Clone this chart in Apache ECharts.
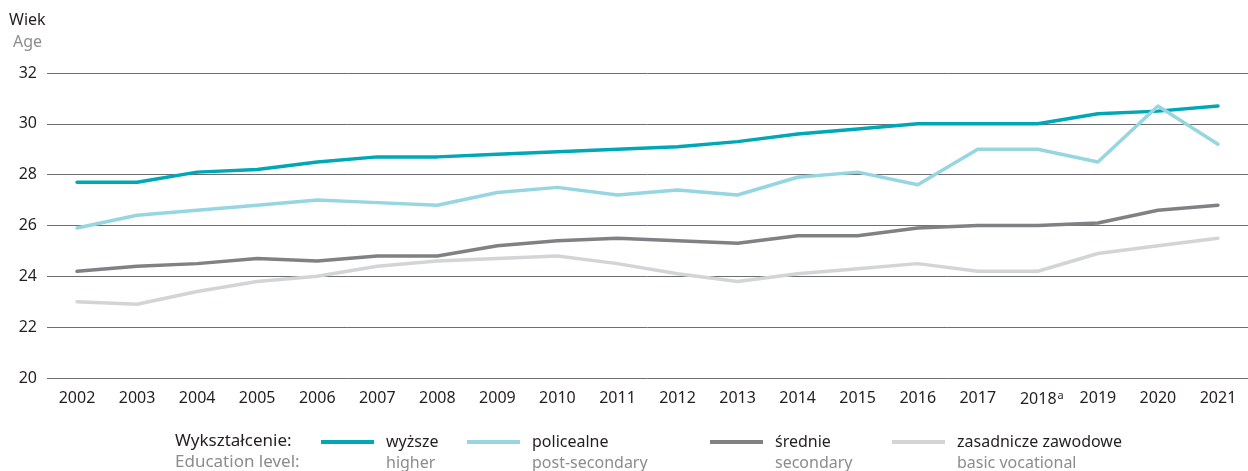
<!DOCTYPE html>
<html>
<head>
<meta charset="utf-8">
<script src="https://cdn.jsdelivr.net/npm/echarts@6/dist/echarts.min.js"></script>
<style>
  html, body { margin: 0; padding: 0; background: #fff; }
  #chart { width: 1248px; height: 471px; }
</style>
</head>
<body>
<div id="chart"></div>
<script>
// lata
var years = ['2002', '2003', '2004', '2005', '2006', '2007', '2008', '2009', '2010', '2011',
  '2012', '2013', '2014', '2015', '2016', '2017', '2018', '2019', '2020', '2021'];
var footnoteYear = '2018';

// nazwy serii (pl / en)
var namesPl = ['wyższe', 'policealne', 'średnie', 'zasadnicze zawodowe'];
var namesEn = ['higher', 'post-secondary', 'secondary', 'basic vocational'];

// mediana wieku
var higher = [27.7, 27.7, 28.1, 28.2, 28.5, 28.7, 28.7, 28.8, 28.9, 29.0,
  29.1, 29.3, 29.6, 29.8, 30.0, 30.0, 30.0, 30.4, 30.5, 30.7];
var postSecondary = [25.9, 26.4, 26.6, 26.8, 27.0, 26.9, 26.8, 27.3, 27.5, 27.2,
  27.4, 27.2, 27.9, 28.1, 27.6, 29.0, 29.0, 28.5, 30.7, 29.2];
var secondary = [24.2, 24.4, 24.5, 24.7, 24.6, 24.8, 24.8, 25.2, 25.4, 25.5,
  25.4, 25.3, 25.6, 25.6, 25.9, 26.0, 26.0, 26.1, 26.6, 26.8];
var vocational = [23.0, 22.9, 23.4, 23.8, 24.0, 24.4, 24.6, 24.7, 24.8, 24.5,
  24.1, 23.8, 24.1, 24.3, 24.5, 24.2, 24.2, 24.9, 25.2, 25.5];

var yTicks = [20, 22, 24, 26, 28, 30, 32];

var colors = ['#00a7b6', '#96d6e0', '#808184', '#d3d4d5'];
var FONT = '"Noto Sans", sans-serif';
var dark = '#231f20';
var grey = '#8c8c8c';

var seriesData = [higher, postSecondary, secondary, vocational];
var legendLeft = [321, 467, 710, 892];

var myChart = echarts.init(document.getElementById('chart'));

var series = seriesData.map(function (d, i) {
  return {
    name: namesPl[i],
    type: 'line',
    data: d,
    symbol: 'none',
    smooth: false,
    lineStyle: { color: colors[i], width: 3.5, cap: 'round', join: 'round' },
    itemStyle: { color: colors[i] }
  };
});

// jedna legenda na serie, zeby odstepy byly jak w oryginale
var legends = namesPl.map(function (n, i) {
  return {
    data: [n],
    left: legendLeft[i],
    top: 434,
    padding: 0,
    icon: 'rect',
    itemWidth: 53,
    itemHeight: 4,
    selectedMode: false,
    formatter: function (name) {
      return '{a|' + name + '}\n{b|' + namesEn[namesPl.indexOf(name)] + '}';
    },
    textStyle: {
      padding: [21, 0, 0, 7],
      rich: {
        a: { fontFamily: FONT, fontSize: 16, color: dark, lineHeight: 21 },
        b: { fontFamily: FONT, fontSize: 16, color: grey, lineHeight: 21 }
      }
    }
  };
});

var option = {
  animation: false,
  backgroundColor: '#fff',
  grid: {
    left: 47,
    top: 73,
    width: 1214,
    bottom: 93,
    containLabel: false
  },
  legend: legends,
  graphic: [
    {
      type: 'text', left: 9, top: 12,
      style: { text: 'Wiek', font: '16px ' + FONT, fill: dark }
    },
    {
      type: 'text', left: 13, top: 34,
      style: { text: 'Age', font: '16px ' + FONT, fill: grey }
    },
    {
      type: 'text', left: 175, top: 433,
      style: {
        text: '{a|Wykształcenie:}\n{b|Education level:}',
        rich: {
          a: { fontFamily: FONT, fontSize: 17, fill: dark, lineHeight: 21 },
          b: { fontFamily: FONT, fontSize: 17, fill: grey, lineHeight: 21 }
        }
      }
    }
  ],
  xAxis: {
    type: 'category',
    data: years,
    boundaryGap: true,
    axisLine: { show: false },
    axisTick: { show: false },
    axisLabel: {
      margin: 12,
      interval: 0,
      formatter: function (v) {
        // przypis "a" wystaje w prawo, rok zostaje na srodku
        return v === footnoteYear ? '{m|' + v + '}{s|a}' : '{n|' + v + '}';
      },
      rich: {
        n: { fontFamily: FONT, fontSize: 16, color: dark },
        m: { fontFamily: FONT, fontSize: 16, color: dark, padding: [0, 0, 0, 8] },
        s: { fontFamily: FONT, fontSize: 11, color: dark, padding: [0, 0, 8, 1] }
      }
    }
  },
  yAxis: {
    type: 'value',
    min: yTicks[0],
    max: yTicks[yTicks.length - 1],
    interval: 2,
    axisLine: { show: false },
    axisTick: { show: false },
    splitLine: { lineStyle: { color: '#6d6e71', width: 1 } },
    axisLabel: {
      margin: 10,
      fontFamily: FONT,
      fontSize: 16,
      color: dark
    }
  },
  series: series
};

myChart.setOption(option);
</script>
</body>
</html>
